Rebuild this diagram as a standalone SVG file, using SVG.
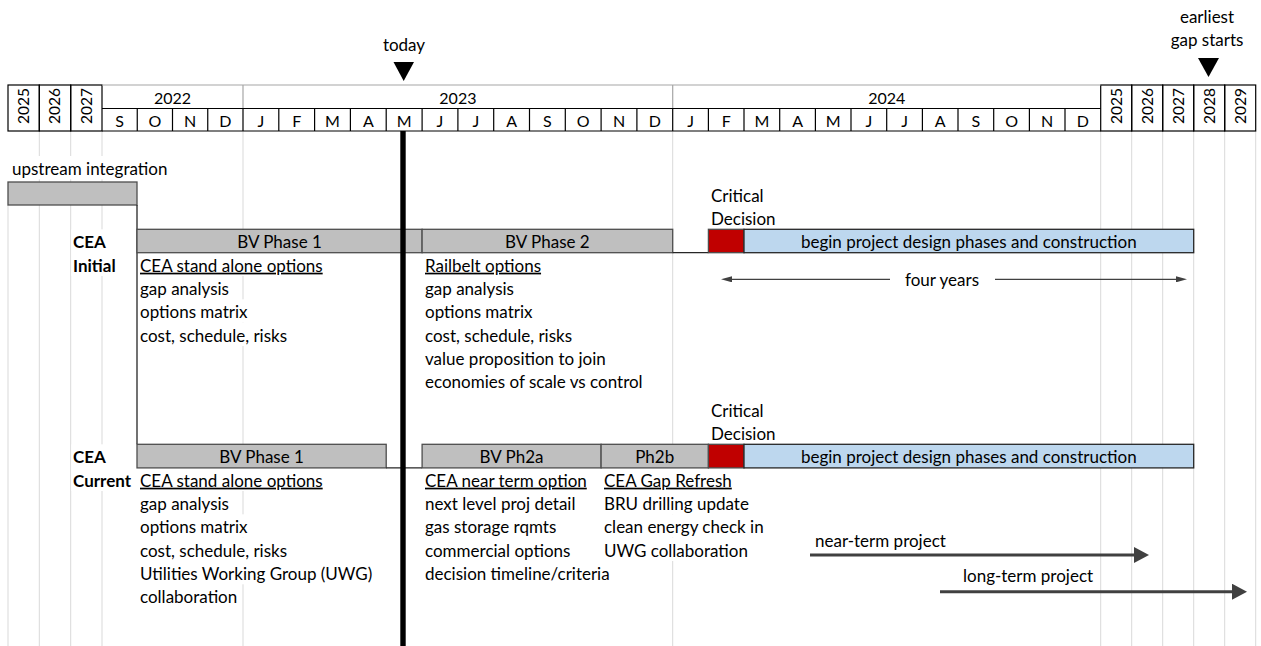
<svg xmlns="http://www.w3.org/2000/svg" width="1261" height="646" viewBox="0 0 1261 646">
<defs>
<style>
.t{font-family:Lato,'Liberation Sans',sans-serif;font-size:17px;fill:#000}
.hd{font-family:Lato,'Liberation Sans',sans-serif;font-size:16px;fill:#000}
.yr{font-family:Lato,'Liberation Sans',sans-serif;font-size:15.5px;fill:#000}
.b{font-weight:bold}
.u{text-decoration:underline}
.c{text-anchor:middle}
.grid{stroke:#d9d9d9;stroke-width:1;fill:none}
.mask{fill:#fff}
.gbar{fill:#bfbfbf;stroke:#4d4d4d;stroke-width:1.3}
.red{fill:#c00000;stroke:#4d4d4d;stroke-width:1.3}
.blue{fill:#bdd7ee;stroke:#262626;stroke-width:1.3}
.hline{stroke:#000;stroke-width:1.2;fill:none}
.gline{stroke:#a6a6a6;stroke-width:1.2;fill:none}
.edge{stroke:#262626;stroke-width:1.3;fill:none}
.thin{stroke:#404040;stroke-width:1.2;fill:none}
.thick{stroke:#404040;stroke-width:3;fill:none}
</style>
<marker id="ahs" viewBox="0 0 11 6" markerWidth="11" markerHeight="6" refX="3" refY="3" orient="auto-start-reverse" markerUnits="userSpaceOnUse"><path d="M0,0 L11,3 L0,6 z" fill="#404040"/></marker>
<marker id="ahl" viewBox="0 0 15 16" markerWidth="15" markerHeight="16" refX="5" refY="8" orient="auto" markerUnits="userSpaceOnUse"><path d="M0,0 L15,8 L0,16 z" fill="#404040"/></marker>
</defs>
<rect x="0" y="0" width="1261" height="646" fill="#fff"/>

<g id="gridlines">
<line class="grid" x1="8" y1="205" x2="8" y2="646"/>
<line class="grid" x1="39.3" y1="131" x2="39.3" y2="646"/>
<line class="grid" x1="70.7" y1="131" x2="70.7" y2="646"/>
<line class="grid" x1="102" y1="131" x2="102" y2="646"/>
<line class="grid" x1="243" y1="131" x2="243" y2="646"/>
<line class="grid" x1="672.7" y1="131" x2="672.7" y2="646"/>
<line class="grid" x1="1100.7" y1="131" x2="1100.7" y2="646"/>
<line class="grid" x1="1131.7" y1="131" x2="1131.7" y2="646"/>
<line class="grid" x1="1162.7" y1="131" x2="1162.7" y2="646"/>
<line class="grid" x1="1193.7" y1="131" x2="1193.7" y2="646"/>
<line class="grid" x1="1224.7" y1="131" x2="1224.7" y2="646"/>
<line class="grid" x1="1255.7" y1="131" x2="1255.7" y2="646"/>
</g>

<g id="overflow-masks">
<rect class="mask" x="9" y="156" width="160" height="23.3"/>
<rect class="mask" x="71.3" y="229.3" width="65" height="46.7"/>
<rect class="mask" x="139" y="252.7" width="184" height="23.3"/>
<rect class="mask" x="139" y="299.3" width="110" height="23.3"/>
<rect class="mask" x="139" y="322.7" width="147" height="23.3"/>
<rect class="mask" x="71.3" y="444.3" width="65" height="46.7"/>
<rect class="mask" x="139" y="467.7" width="184" height="23.3"/>
<rect class="mask" x="139" y="514.3" width="110" height="23.3"/>
<rect class="mask" x="139" y="537.7" width="147" height="23.3"/>
<rect class="mask" x="139" y="561" width="225" height="23.3"/>
<rect class="mask" x="603" y="467.7" width="126" height="23.3"/>
<rect class="mask" x="603" y="491" width="144" height="23.3"/>
<rect class="mask" x="603" y="514.3" width="158" height="23.3"/>
<rect class="mask" x="603" y="537.7" width="142" height="23.3"/>
</g>

<g id="header">
<rect class="hline" x="8" y="85" width="31.3" height="46"/>
<rect class="hline" x="39.3" y="85" width="31.4" height="46"/>
<rect class="hline" x="70.7" y="85" width="31.3" height="46"/>
<rect class="hline" x="1100.7" y="85" width="31" height="46"/>
<rect class="hline" x="1131.7" y="85" width="31" height="46"/>
<rect class="hline" x="1162.7" y="85" width="31" height="46"/>
<rect class="hline" x="1193.7" y="85" width="31" height="46"/>
<rect class="hline" x="1224.7" y="85" width="31" height="46"/>
<line class="gline" x1="102" y1="85" x2="1100.7" y2="85"/>
<line class="gline" x1="243" y1="85" x2="243" y2="108.5"/>
<line class="gline" x1="672.7" y1="85" x2="672.7" y2="108.5"/>
<line class="hline" x1="102" y1="108.5" x2="1100.7" y2="108.5"/>
<line class="hline" x1="102" y1="131" x2="1100.7" y2="131"/>
<path class="hline" d="M137.25,108.5V131M172.5,108.5V131M207.75,108.5V131M243,108.5V131M278.8,108.5V131M314.6,108.5V131M350.4,108.5V131M386.2,108.5V131M422.1,108.5V131M457.9,108.5V131M493.7,108.5V131M529.5,108.5V131M565.3,108.5V131M601.1,108.5V131M636.9,108.5V131M672.7,108.5V131M708.4,108.5V131M744,108.5V131M779.7,108.5V131M815.4,108.5V131M851,108.5V131M886.7,108.5V131M922.4,108.5V131M958,108.5V131M993.7,108.5V131M1029.4,108.5V131M1065,108.5V131"/>
<text class="yr c" transform="translate(29,106) rotate(-90)">2025</text>
<text class="yr c" transform="translate(60.4,106) rotate(-90)">2026</text>
<text class="yr c" transform="translate(91.7,106) rotate(-90)">2027</text>
<text class="yr c" transform="translate(1121.5,106) rotate(-90)">2025</text>
<text class="yr c" transform="translate(1152.5,106) rotate(-90)">2026</text>
<text class="yr c" transform="translate(1183.5,106) rotate(-90)">2027</text>
<text class="yr c" transform="translate(1214.5,106) rotate(-90)">2028</text>
<text class="yr c" transform="translate(1245.5,106) rotate(-90)">2029</text>
<text class="hd c" x="172.5" y="103.5">2022</text>
<text class="hd c" x="457.9" y="103.5">2023</text>
<text class="hd c" x="886.7" y="103.5">2024</text>
<g class="hd c">
<text x="119.6" y="126.5">S</text><text x="154.9" y="126.5">O</text><text x="190.1" y="126.5">N</text><text x="225.4" y="126.5">D</text>
<text x="260.9" y="126.5">J</text><text x="296.7" y="126.5">F</text><text x="332.5" y="126.5">M</text><text x="368.3" y="126.5">A</text><text x="404.2" y="126.5">M</text><text x="440" y="126.5">J</text><text x="475.8" y="126.5">J</text><text x="511.6" y="126.5">A</text><text x="547.4" y="126.5">S</text><text x="583.2" y="126.5">O</text><text x="619" y="126.5">N</text><text x="654.8" y="126.5">D</text>
<text x="690.6" y="126.5">J</text><text x="726.2" y="126.5">F</text><text x="761.9" y="126.5">M</text><text x="797.6" y="126.5">A</text><text x="833.2" y="126.5">M</text><text x="868.9" y="126.5">J</text><text x="904.6" y="126.5">J</text><text x="940.2" y="126.5">A</text><text x="975.9" y="126.5">S</text><text x="1011.6" y="126.5">O</text><text x="1047.2" y="126.5">N</text><text x="1082.9" y="126.5">D</text>
</g>
</g>

<g id="today-marker">
<text class="t c" x="404" y="51">today</text>
<path d="M393.5,62 L414,62 L403.7,81 z" fill="#000"/>
</g>

<g id="gap-marker">
<text class="t c" x="1207" y="23">earliest</text>
<text class="t c" x="1207" y="46">gap starts</text>
<path d="M1198,58 L1219,58 L1208.5,77 z" fill="#000"/>
</g>

<g id="upstream">
<text class="t" x="12" y="175">upstream integration</text>
<rect class="gbar" x="8" y="182" width="129" height="23"/>
</g>

<g id="cea-initial">
<line class="edge" x1="137" y1="205" x2="137" y2="444.3"/>
<text class="t b" x="73" y="248.3">CEA</text>
<text class="t b" x="73" y="271.7">Initial</text>
<rect class="gbar" x="137" y="229.3" width="285.1" height="23.4"/>
<text class="t c" x="279.5" y="247.8">BV Phase 1</text>
<rect class="gbar" x="422.1" y="229.3" width="250.6" height="23.4"/>
<text class="t c" x="547.4" y="247.8">BV Phase 2</text>
<line class="edge" x1="672.7" y1="252.7" x2="708.4" y2="252.7"/>
<rect class="red" x="708.4" y="229.3" width="35.6" height="23.4"/>
<rect class="blue" x="744" y="229.3" width="449.7" height="23.4"/>
<text class="t c" x="968.8" y="247.8">begin project design phases and construction</text>
<text class="t" x="711" y="201.5">Critical</text>
<text class="t" x="711" y="224.8">Decision</text>
<text class="t u" x="140" y="271.7">CEA stand alone options</text>
<text class="t" x="140" y="295">gap analysis</text>
<text class="t" x="140" y="318.3">options matrix</text>
<text class="t" x="140" y="341.7">cost, schedule, risks</text>
<text class="t u" x="425" y="271.7">Railbelt options</text>
<text class="t" x="425" y="295">gap analysis</text>
<text class="t" x="425" y="318.3">options matrix</text>
<text class="t" x="425" y="341.7">cost, schedule, risks</text>
<text class="t" x="425" y="365">value proposition to join</text>
<text class="t" x="425" y="388.3">economies of scale vs control</text>
<text class="t c" x="942" y="286">four years</text>
</g>

<g id="cea-current">
<text class="t b" x="73" y="463.3">CEA</text>
<text class="t b" x="73" y="486.7">Current</text>
<rect class="gbar" x="137" y="444.3" width="249.2" height="23.6"/>
<text class="t c" x="261.6" y="462.8">BV Phase 1</text>
<line class="edge" x1="386.2" y1="467.9" x2="422.1" y2="467.9"/>
<rect class="gbar" x="422.1" y="444.3" width="179" height="23.6"/>
<text class="t c" x="511.6" y="462.8">BV Ph2a</text>
<rect class="gbar" x="601.1" y="444.3" width="107.3" height="23.6"/>
<text class="t c" x="654.7" y="462.8">Ph2b</text>
<rect class="red" x="708.4" y="444.3" width="35.6" height="23.6"/>
<rect class="blue" x="744" y="444.3" width="449.7" height="23.6"/>
<text class="t c" x="968.8" y="462.8">begin project design phases and construction</text>
<text class="t" x="711" y="416.5">Critical</text>
<text class="t" x="711" y="439.8">Decision</text>
<text class="t u" x="140" y="486.7">CEA stand alone options</text>
<text class="t" x="140" y="510">gap analysis</text>
<text class="t" x="140" y="533.3">options matrix</text>
<text class="t" x="140" y="556.7">cost, schedule, risks</text>
<text class="t" x="140" y="580">Utilities Working Group (UWG)</text>
<text class="t" x="140" y="603.3">collaboration</text>
<text class="t u" x="425" y="486.7">CEA near term option</text>
<text class="t" x="425" y="510">next level proj detail</text>
<text class="t" x="425" y="533.3">gas storage rqmts</text>
<text class="t" x="425" y="556.7">commercial options</text>
<text class="t" x="425" y="580">decision timeline/criteria</text>
<text class="t u" x="604" y="486.7">CEA Gap Refresh</text>
<text class="t" x="604" y="510">BRU drilling update</text>
<text class="t" x="604" y="533.3">clean energy check in</text>
<text class="t" x="604" y="556.7">UWG collaboration</text>
<text class="t" x="815" y="546.5">near-term project</text>
<text class="t" x="963" y="581.5">long-term project</text>
</g>

<g id="connectors">
<line class="thin" x1="729" y1="279.3" x2="890" y2="279.3" marker-start="url(#ahs)"/>
<line class="thin" x1="995" y1="279.3" x2="1179" y2="279.3" marker-end="url(#ahs)"/>
<line class="thick" x1="810" y1="555" x2="1139" y2="555" marker-end="url(#ahl)"/>
<line class="thick" x1="940" y1="591.7" x2="1237" y2="591.7" marker-end="url(#ahl)"/>
</g>

<g id="today-line">
<rect x="400.3" y="131" width="5.4" height="515" fill="#000"/>
</g>
</svg>
